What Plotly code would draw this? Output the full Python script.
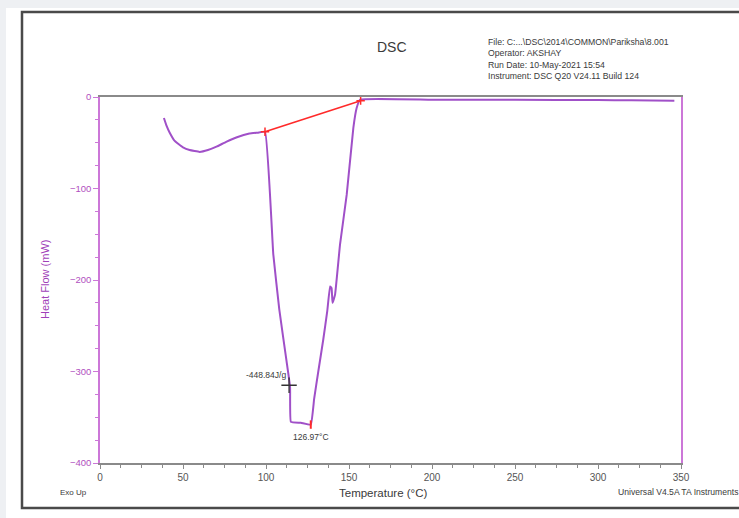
import plotly.graph_objects as go

# DSC heat-flow trace (temperature in °C, heat flow in mW)
temp = [38.5, 40.0, 42.0, 45.0, 50.0, 54.0, 60.0, 65.0, 70.5, 76.0, 82.5, 90.0, 95.0, 99.4,
        104.4, 108.0, 112.4, 114.5, 115.0, 121.0, 126.97,
        129.0, 131.5, 134.5, 136.9, 138.6, 139.5, 140.1, 141.6, 144.6, 148.6, 152.6, 154.6, 156.6,
        200.0, 250.0, 300.0, 320.0, 346.0]
heat = [-23, -31, -39, -48, -55, -58, -60, -58, -54, -49, -44, -40, -39, -38,
        -172, -232, -289, -317, -355, -356, -358,
        -330, -300, -265, -234, -207, -209, -225, -216, -161, -107, -34, -12, -3,
        -3, -3.1, -3.3, -3.6, -4]

# Integration baseline for the melting endotherm
base_temp = [99.4, 157.0]
base_heat = [-38, -4]

# Peak and enthalpy markers
peak_temp, peak_heat = 126.97, -358
enth_temp, enth_heat = 113.9, -315
enth_label = "-448.84J/g"
peak_label = "126.97°C"

x_ticks = [0, 50, 100, 150, 200, 250, 300, 350]
y_ticks = [0, -100, -200, -300, -400]

PURPLE = "#a050c8"
AXIS_PINK = "#cc77d8"
TXT = "#3a3a3a"

# Plot area in pixels: x 100..681, y 97..463
L, R, T, B = 100, 681, 97, 463
W, H = 739, 518
def px(x):
    return (x - L) / (R - L)
def py(y):
    return (B - y) / (B - T)

fig = go.Figure()
fig.add_trace(go.Scatter(x=temp, y=heat, mode="lines",
                         line=dict(color=PURPLE, width=2, shape="spline", smoothing=0.3),
                         hoverinfo="skip"))
fig.add_trace(go.Scatter(x=base_temp, y=base_heat, mode="lines+markers",
                         line=dict(color="#ff2a2a", width=1.6),
                         marker=dict(symbol="cross-thin", size=6, line=dict(color="#ff2a2a", width=1.5)),
                         hoverinfo="skip"))
fig.add_trace(go.Scatter(x=[peak_temp], y=[peak_heat], mode="markers",
                         marker=dict(symbol="line-ns", size=6, line=dict(color="#ff2a2a", width=2)),
                         hoverinfo="skip"))
fig.add_trace(go.Scatter(x=[enth_temp], y=[enth_heat], mode="markers",
                         marker=dict(symbol="cross-thin", size=11, line=dict(color="#333333", width=1.3)),
                         hoverinfo="skip"))

shapes = [
    # page background and outer frame
    dict(type="rect", xref="paper", yref="paper", x0=px(6), x1=px(W + 5), y0=py(H + 5), y1=py(8),
         fillcolor="white", line=dict(width=0), layer="below"),
    dict(type="rect", xref="paper", yref="paper", x0=px(22), x1=px(W + 10), y0=py(508), y1=py(12),
         fillcolor="rgba(0,0,0,0)", line=dict(color="#4a4a4a", width=2.5), layer="below"),
]

def note(text, x, y, size, xanchor="center", yanchor="middle", **kw):
    return dict(text=text, x=px(x), y=py(y), xref="paper", yref="paper", showarrow=False,
                xanchor=xanchor, yanchor=yanchor,
                font=dict(size=size, color=kw.pop("color", TXT), family="Liberation Sans"), **kw)

annotations = [
    note("DSC", 392, 47, 14),
    note("File: C:...\\DSC\\2014\\COMMON\\Pariksha\\8.001<br>Operator: AKSHAY<br>"
         "Run Date: 10-May-2021 15:54<br>Instrument: DSC Q20 V24.11 Build 124",
         486, 35, 8.7, xanchor="left", yanchor="top", align="left"),
    note("Heat Flow (mW)", 45, 280, 11, textangle=-90, color="#a040b8"),
    note("Temperature (°C)", 383, 493, 11.5),
    note("Exo Up", 58, 492, 8, xanchor="left"),
    note("Universal V4.5A TA Instruments", 616, 492, 8.6, xanchor="left"),
    dict(text=enth_label, x=enth_temp, y=enth_heat, xref="x", yref="y", showarrow=False,
         xanchor="right", yanchor="bottom", xshift=-1, yshift=3,
         font=dict(size=8.5, color=TXT, family="Liberation Sans")),
    dict(text=peak_label, x=peak_temp, y=peak_heat, xref="x", yref="y", showarrow=False,
         xanchor="center", yanchor="top", yshift=-5,
         font=dict(size=8.5, color=TXT, family="Liberation Sans")),
]

fig.update_layout(
    width=W, height=H,
    margin=dict(l=L, r=W - R, t=T, b=H - B, pad=0),
    paper_bgcolor="#eef0f3", plot_bgcolor="white",
    showlegend=False,
    shapes=shapes, annotations=annotations,
    font=dict(family="Liberation Sans"),
)
fig.update_xaxes(range=[0, 350], tickvals=x_ticks, showgrid=False, zeroline=False,
                 showline=True, linecolor="#8a8a8a", linewidth=1.5, mirror=True,
                 ticks="outside", ticklen=4, tickcolor="#8a8a8a",
                 minor=dict(dtick=12.5, ticks="outside", ticklen=3, tickcolor="#8a8a8a"),
                 tickfont=dict(size=10, color="#555555"))
fig.update_yaxes(range=[-400, 0], tickvals=y_ticks, showgrid=False, zeroline=False,
                 showline=True, linecolor=AXIS_PINK, linewidth=1.5, mirror=True,
                 ticks="outside", ticklen=5, tickcolor=AXIS_PINK,
                 minor=dict(dtick=25, ticks="outside", ticklen=3, tickcolor=AXIS_PINK),
                 tickfont=dict(size=9.5, color="#b050c0"))

fig.write_html("out.html")
